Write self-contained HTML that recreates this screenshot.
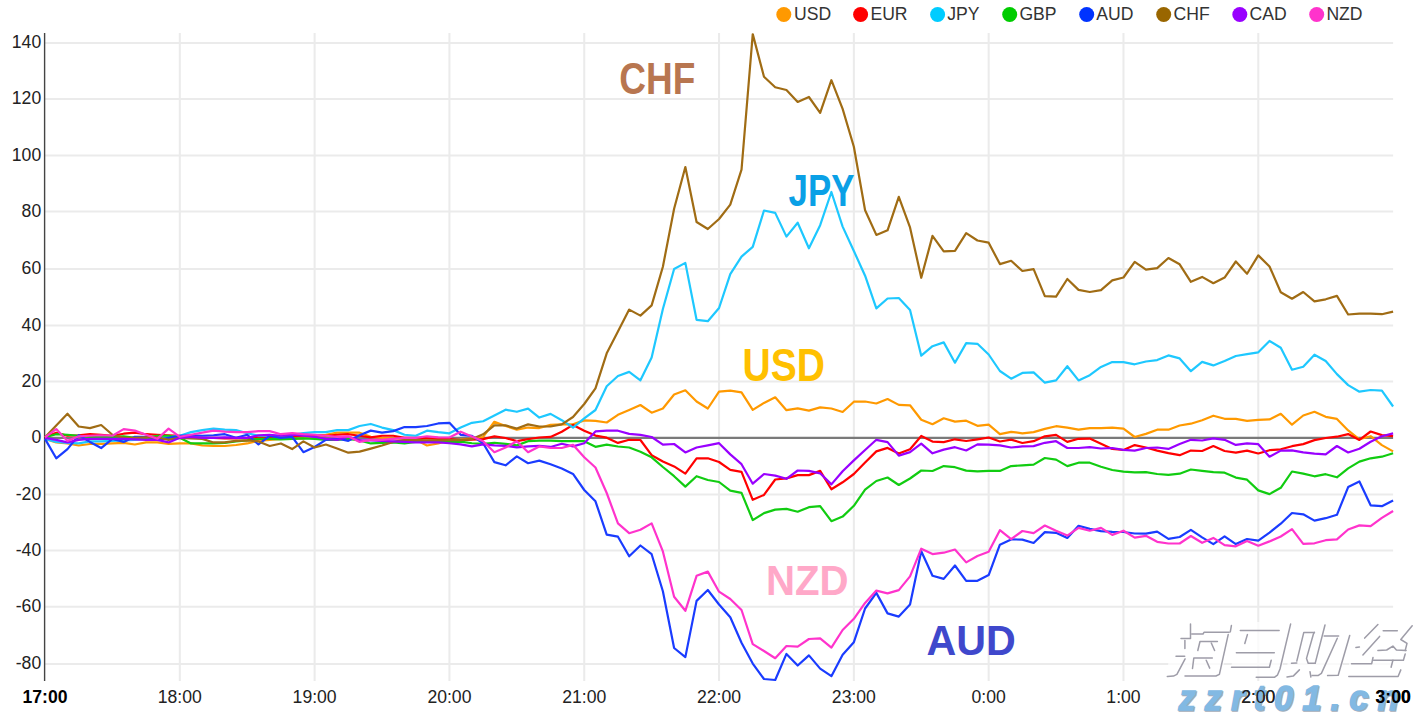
<!DOCTYPE html><html><head><meta charset="utf-8"><style>html,body{margin:0;padding:0;background:#fff;overflow:hidden}svg{display:block}</style></head><body><svg width="1414" height="715" viewBox="0 0 1414 715">
<path d="M45 43.00H1393.1 M45 99.00H1393.1 M45 155.40H1393.1 M45 211.60H1393.1 M45 268.90H1393.1 M45 325.40H1393.1 M45 381.50H1393.1 M45 494.40H1393.1 M45 550.60H1393.1 M45 606.70H1393.1 M45 664.10H1393.1 M179.81 33V681 M314.62 33V681 M449.43 33V681 M584.24 33V681 M719.05 33V681 M853.86 33V681 M988.67 33V681 M1123.48 33V681 M1258.29 33V681" stroke="#ebebeb" stroke-width="2" fill="none"/>
<text x="41.2" y="48.30" font-family="Liberation Sans, sans-serif" font-size="17.6" fill="#222" text-anchor="end">140</text>
<text x="41.2" y="104.30" font-family="Liberation Sans, sans-serif" font-size="17.6" fill="#222" text-anchor="end">120</text>
<text x="41.2" y="160.70" font-family="Liberation Sans, sans-serif" font-size="17.6" fill="#222" text-anchor="end">100</text>
<text x="41.2" y="216.90" font-family="Liberation Sans, sans-serif" font-size="17.6" fill="#222" text-anchor="end">80</text>
<text x="41.2" y="274.20" font-family="Liberation Sans, sans-serif" font-size="17.6" fill="#222" text-anchor="end">60</text>
<text x="41.2" y="330.70" font-family="Liberation Sans, sans-serif" font-size="17.6" fill="#222" text-anchor="end">40</text>
<text x="41.2" y="386.80" font-family="Liberation Sans, sans-serif" font-size="17.6" fill="#222" text-anchor="end">20</text>
<text x="41.2" y="443.20" font-family="Liberation Sans, sans-serif" font-size="17.6" fill="#222" text-anchor="end">0</text>
<text x="41.2" y="499.70" font-family="Liberation Sans, sans-serif" font-size="17.6" fill="#222" text-anchor="end">-20</text>
<text x="41.2" y="555.90" font-family="Liberation Sans, sans-serif" font-size="17.6" fill="#222" text-anchor="end">-40</text>
<text x="41.2" y="612.00" font-family="Liberation Sans, sans-serif" font-size="17.6" fill="#222" text-anchor="end">-60</text>
<text x="41.2" y="669.40" font-family="Liberation Sans, sans-serif" font-size="17.6" fill="#222" text-anchor="end">-80</text>
<text x="45.00" y="702.5" font-family="Liberation Sans, sans-serif" font-size="17.6" font-weight="bold" fill="#000" text-anchor="middle">17:00</text>
<text x="179.81" y="702.5" font-family="Liberation Sans, sans-serif" font-size="17.6" fill="#222" text-anchor="middle">18:00</text>
<text x="314.62" y="702.5" font-family="Liberation Sans, sans-serif" font-size="17.6" fill="#222" text-anchor="middle">19:00</text>
<text x="449.43" y="702.5" font-family="Liberation Sans, sans-serif" font-size="17.6" fill="#222" text-anchor="middle">20:00</text>
<text x="584.24" y="702.5" font-family="Liberation Sans, sans-serif" font-size="17.6" fill="#222" text-anchor="middle">21:00</text>
<text x="719.05" y="702.5" font-family="Liberation Sans, sans-serif" font-size="17.6" fill="#222" text-anchor="middle">22:00</text>
<text x="853.86" y="702.5" font-family="Liberation Sans, sans-serif" font-size="17.6" fill="#222" text-anchor="middle">23:00</text>
<text x="988.67" y="702.5" font-family="Liberation Sans, sans-serif" font-size="17.6" fill="#222" text-anchor="middle">0:00</text>
<text x="1123.48" y="702.5" font-family="Liberation Sans, sans-serif" font-size="17.6" fill="#222" text-anchor="middle">1:00</text>
<text x="1258.29" y="702.5" font-family="Liberation Sans, sans-serif" font-size="17.6" fill="#222" text-anchor="middle">2:00</text>
<text x="1393.10" y="702.5" font-family="Liberation Sans, sans-serif" font-size="17.6" font-weight="bold" fill="#000" text-anchor="middle">3:00</text>
<path d="M44.6 33V681" stroke="#444" stroke-width="1.4"/>
<path d="M45 437.9H1393.1" stroke="#7a7a7a" stroke-width="2.2"/>
<defs><clipPath id="pc"><rect x="44" y="33.2" width="1352" height="648"/></clipPath></defs><g clip-path="url(#pc)">
<polyline points="45.00,438.84 56.23,442.43 67.47,443.45 78.70,445.50 89.94,443.97 101.17,443.97 112.40,443.45 123.64,442.94 134.87,444.48 146.11,442.43 157.34,442.43 168.58,443.97 179.81,443.45 191.04,443.45 202.28,445.50 213.51,446.02 224.75,446.02 235.98,444.99 247.21,443.45 258.45,440.89 269.68,439.86 280.92,438.84 292.15,438.84 303.39,438.33 314.62,435.76 325.85,434.74 337.09,432.69 348.32,432.69 359.56,432.69 370.79,436.79 382.02,437.81 393.26,438.33 404.49,438.84 415.73,439.86 426.96,445.50 438.20,443.45 449.43,440.12 460.66,439.59 471.90,438.54 483.13,436.97 494.37,421.75 505.60,425.95 516.83,429.62 528.07,427.53 539.30,428.05 550.54,424.90 561.77,424.38 573.01,424.38 584.24,420.40 595.47,420.80 606.71,422.50 617.94,414.80 629.18,410.00 640.41,405.00 651.64,412.70 662.88,408.50 674.11,394.50 685.35,390.30 696.58,401.50 707.82,408.50 719.05,391.70 730.28,390.60 741.52,392.40 752.75,409.90 763.99,402.90 775.22,397.30 786.45,410.20 797.69,408.30 808.92,410.60 820.16,407.40 831.39,408.50 842.63,412.00 853.86,401.70 865.09,401.50 876.33,403.50 887.56,399.00 898.80,404.90 910.03,405.30 921.26,419.70 932.50,424.20 943.73,418.30 954.97,421.60 966.20,420.70 977.44,425.80 988.67,424.70 999.90,434.20 1011.14,431.80 1022.37,433.30 1033.61,432.10 1044.84,428.90 1056.07,426.20 1067.31,427.60 1078.54,429.70 1089.78,428.10 1101.01,428.10 1112.25,427.60 1123.48,428.70 1134.71,437.00 1145.95,433.90 1157.18,429.70 1168.42,429.70 1179.65,425.50 1190.88,423.70 1202.12,420.20 1213.35,415.70 1224.59,418.80 1235.82,418.80 1247.06,420.90 1258.29,419.80 1269.52,419.40 1280.76,413.80 1291.99,424.70 1303.23,415.50 1314.46,411.80 1325.69,416.80 1336.93,418.90 1348.16,430.40 1359.40,439.30 1370.63,436.20 1381.87,445.10 1393.10,451.40" fill="none" stroke="#ff9900" stroke-width="2.2" stroke-linejoin="round"/>
<polyline points="45.00,437.30 56.23,432.69 67.47,435.76 78.70,435.25 89.94,434.22 101.17,434.74 112.40,435.76 123.64,433.71 134.87,432.69 146.11,434.22 157.34,434.74 168.58,435.25 179.81,435.76 191.04,437.30 202.28,437.81 213.51,437.81 224.75,438.33 235.98,438.33 247.21,437.81 258.45,436.79 269.68,436.79 280.92,435.76 292.15,436.28 303.39,435.76 314.62,435.25 325.85,435.76 337.09,434.74 348.32,434.22 359.56,435.76 370.79,437.30 382.02,435.76 393.26,435.76 404.49,437.81 415.73,437.81 426.96,438.33 438.20,438.84 449.43,439.07 460.66,440.12 471.90,439.59 483.13,439.07 494.37,436.44 505.60,438.02 516.83,441.17 528.07,439.07 539.30,437.49 550.54,436.97 561.77,431.72 573.01,424.90 584.24,430.70 595.47,435.60 606.71,437.70 617.94,442.90 629.18,439.80 640.41,440.00 651.64,455.20 662.88,461.50 674.11,466.40 685.35,473.60 696.58,458.30 707.82,458.30 719.05,462.00 730.28,469.80 741.52,471.90 752.75,499.80 763.99,494.90 775.22,479.50 786.45,478.40 797.69,475.10 808.92,475.10 820.16,470.90 831.39,489.30 842.63,482.30 853.86,474.00 865.09,462.60 876.33,451.40 887.56,447.90 898.80,453.50 910.03,449.30 921.26,436.00 932.50,441.60 943.73,442.10 954.97,439.30 966.20,441.00 977.44,439.30 988.67,437.50 999.90,441.50 1011.14,439.60 1022.37,443.00 1033.61,441.20 1044.84,436.30 1056.07,434.90 1067.31,441.90 1078.54,438.80 1089.78,438.60 1101.01,443.80 1112.25,448.90 1123.48,450.00 1134.71,445.10 1145.95,447.50 1157.18,450.60 1168.42,453.10 1179.65,455.20 1190.88,450.60 1202.12,451.00 1213.35,446.10 1224.59,451.00 1235.82,452.70 1247.06,450.60 1258.29,453.50 1269.52,450.20 1280.76,449.30 1291.99,446.20 1303.23,444.10 1314.46,440.10 1325.69,438.00 1336.93,436.70 1348.16,434.10 1359.40,439.90 1370.63,431.50 1381.87,435.10 1393.10,436.20" fill="none" stroke="#ff0000" stroke-width="2.2" stroke-linejoin="round"/>
<polyline points="45.00,438.84 56.23,441.92 67.47,442.94 78.70,443.45 89.94,441.40 101.17,441.40 112.40,440.89 123.64,440.38 134.87,439.86 146.11,438.84 157.34,437.81 168.58,436.79 179.81,435.76 191.04,432.17 202.28,430.12 213.51,428.58 224.75,429.61 235.98,430.12 247.21,433.20 258.45,435.76 269.68,435.76 280.92,435.76 292.15,434.74 303.39,433.20 314.62,432.17 325.85,432.17 337.09,430.12 348.32,430.12 359.56,426.02 370.79,423.97 382.02,427.56 393.26,430.12 404.49,434.74 415.73,435.76 426.96,430.64 438.20,432.17 449.43,433.30 460.66,427.53 471.90,422.80 483.13,421.23 494.37,415.46 505.60,409.69 516.83,411.79 528.07,408.64 539.30,417.56 550.54,413.89 561.77,420.18 573.01,427.53 584.24,418.30 595.47,410.00 606.71,386.20 617.94,376.00 629.18,371.90 640.41,380.30 651.64,357.50 662.88,309.00 674.11,269.00 685.35,262.90 696.58,319.80 707.82,321.20 719.05,308.00 730.28,274.10 741.52,256.60 752.75,246.90 763.99,210.50 775.22,212.90 786.45,236.60 797.69,222.70 808.92,248.30 820.16,225.20 831.39,192.00 842.63,226.60 853.86,251.00 865.09,275.70 876.33,308.40 887.56,298.50 898.80,298.00 910.03,310.00 921.26,355.70 932.50,346.20 943.73,342.40 954.97,362.70 966.20,343.10 977.44,343.80 988.67,354.50 999.90,371.00 1011.14,378.70 1022.37,372.90 1033.61,372.40 1044.84,382.70 1056.07,380.40 1067.31,366.20 1078.54,380.40 1089.78,375.20 1101.01,366.90 1112.25,362.00 1123.48,362.20 1134.71,364.30 1145.95,361.50 1157.18,360.10 1168.42,355.40 1179.65,358.40 1190.88,371.20 1202.12,361.90 1213.35,365.40 1224.59,360.90 1235.82,356.00 1247.06,354.20 1258.29,352.30 1269.52,341.00 1280.76,347.80 1291.99,369.70 1303.23,366.70 1314.46,354.70 1325.69,361.00 1336.93,374.10 1348.16,385.10 1359.40,391.70 1370.63,390.00 1381.87,390.60 1393.10,406.50" fill="none" stroke="#1ec8ff" stroke-width="2.2" stroke-linejoin="round"/>
<polyline points="45.00,437.30 56.23,434.22 67.47,434.74 78.70,435.76 89.94,436.79 101.17,436.28 112.40,436.79 123.64,436.28 134.87,437.81 146.11,437.81 157.34,435.76 168.58,435.76 179.81,437.81 191.04,443.45 202.28,443.45 213.51,443.45 224.75,442.94 235.98,441.40 247.21,440.38 258.45,438.84 269.68,438.84 280.92,439.35 292.15,438.84 303.39,438.33 314.62,438.84 325.85,439.86 337.09,439.86 348.32,438.84 359.56,440.38 370.79,443.45 382.02,442.94 393.26,442.43 404.49,443.45 415.73,441.92 426.96,441.40 438.20,441.40 449.43,442.21 460.66,441.69 471.90,443.26 483.13,443.79 494.37,442.74 505.60,443.79 516.83,445.36 528.07,441.17 539.30,440.64 550.54,440.64 561.77,441.17 573.01,441.17 584.24,441.20 595.47,446.80 606.71,444.70 617.94,446.50 629.18,447.50 640.41,451.70 651.64,457.30 662.88,467.00 674.11,476.20 685.35,486.60 696.58,476.20 707.82,480.00 719.05,482.00 730.28,490.70 741.52,492.80 752.75,520.10 763.99,513.10 775.22,509.60 786.45,508.90 797.69,511.70 808.92,507.20 820.16,506.10 831.39,521.20 842.63,516.60 853.86,505.80 865.09,489.60 876.33,481.00 887.56,477.50 898.80,485.00 910.03,478.50 921.26,470.50 932.50,471.00 943.73,466.10 954.97,467.20 966.20,470.60 977.44,471.40 988.67,470.80 999.90,470.90 1011.14,466.10 1022.37,465.30 1033.61,464.60 1044.84,458.00 1056.07,459.60 1067.31,466.10 1078.54,462.70 1089.78,462.70 1101.01,466.70 1112.25,470.00 1123.48,471.70 1134.71,472.40 1145.95,472.20 1157.18,474.00 1168.42,474.80 1179.65,473.70 1190.88,469.50 1202.12,470.90 1213.35,472.20 1224.59,472.70 1235.82,477.60 1247.06,479.70 1258.29,490.40 1269.52,494.10 1280.76,487.80 1291.99,471.50 1303.23,473.60 1314.46,476.30 1325.69,474.20 1336.93,477.30 1348.16,468.40 1359.40,461.60 1370.63,458.30 1381.87,456.70 1393.10,453.30" fill="none" stroke="#11cc11" stroke-width="2.2" stroke-linejoin="round"/>
<polyline points="45.00,438.84 56.23,458.32 67.47,449.09 78.70,435.25 89.94,441.92 101.17,448.07 112.40,438.84 123.64,441.92 134.87,436.79 146.11,436.79 157.34,439.86 168.58,437.81 179.81,435.76 191.04,435.25 202.28,435.76 213.51,435.25 224.75,434.22 235.98,437.81 247.21,434.74 258.45,444.48 269.68,435.76 280.92,437.81 292.15,436.79 303.39,452.17 314.62,447.04 325.85,439.86 337.09,438.33 348.32,440.89 359.56,435.25 370.79,430.64 382.02,432.69 393.26,431.15 404.49,427.05 415.73,427.05 426.96,426.02 438.20,423.46 449.43,422.80 460.66,434.87 471.90,435.92 483.13,443.26 494.37,462.15 505.60,465.30 516.83,456.38 528.07,463.20 539.30,460.58 550.54,464.25 561.77,468.44 573.01,473.90 584.24,490.00 595.47,501.30 606.71,534.60 617.94,536.70 629.18,556.30 640.41,545.50 651.64,554.20 662.88,591.20 674.11,648.00 685.35,657.10 696.58,600.90 707.82,590.00 719.05,604.50 730.28,617.30 741.52,642.80 752.75,663.60 763.99,679.00 775.22,680.00 786.45,653.90 797.69,665.50 808.92,655.40 820.16,668.60 831.39,676.20 842.63,654.80 853.86,642.20 865.09,608.50 876.33,592.90 887.56,613.40 898.80,616.60 910.03,604.60 921.26,551.20 932.50,575.70 943.73,578.90 954.97,565.50 966.20,580.80 977.44,580.80 988.67,575.10 999.90,544.70 1011.14,539.40 1022.37,539.60 1033.61,543.00 1044.84,532.10 1056.07,532.80 1067.31,538.00 1078.54,525.80 1089.78,528.90 1101.01,531.20 1112.25,531.80 1123.48,532.00 1134.71,533.50 1145.95,533.60 1157.18,531.60 1168.42,538.90 1179.65,537.00 1190.88,529.90 1202.12,537.40 1213.35,544.10 1224.59,536.40 1235.82,544.10 1247.06,539.00 1258.29,540.70 1269.52,532.60 1280.76,523.70 1291.99,513.00 1303.23,514.30 1314.46,520.60 1325.69,518.20 1336.93,514.80 1348.16,487.10 1359.40,481.50 1370.63,505.30 1381.87,506.20 1393.10,500.40" fill="none" stroke="#1a3cff" stroke-width="2.2" stroke-linejoin="round"/>
<polyline points="45.00,437.30 56.23,425.51 67.47,413.72 78.70,426.53 89.94,428.07 101.17,425.00 112.40,434.74 123.64,437.81 134.87,437.81 146.11,437.30 157.34,437.30 168.58,439.86 179.81,437.81 191.04,438.33 202.28,438.84 213.51,442.43 224.75,442.43 235.98,440.89 247.21,440.38 258.45,441.40 269.68,446.02 280.92,443.45 292.15,449.09 303.39,441.40 314.62,447.56 325.85,444.48 337.09,448.58 348.32,452.68 359.56,451.66 370.79,448.58 382.02,445.50 393.26,441.92 404.49,439.86 415.73,439.86 426.96,440.38 438.20,440.38 449.43,440.12 460.66,440.12 471.90,439.07 483.13,434.35 494.37,425.43 505.60,425.43 516.83,428.57 528.07,424.38 539.30,426.48 550.54,426.48 561.77,424.38 573.01,417.03 584.24,404.00 595.47,388.30 606.71,353.30 617.94,331.50 629.18,309.60 640.41,315.60 651.64,305.40 662.88,266.70 674.11,208.70 685.35,167.00 696.58,222.00 707.82,229.00 719.05,219.00 730.28,204.60 741.52,169.70 752.75,34.10 763.99,76.70 775.22,87.20 786.45,90.00 797.69,101.90 808.92,97.00 820.16,112.80 831.39,80.20 842.63,108.90 853.86,146.70 865.09,210.20 876.33,234.90 887.56,230.30 898.80,196.90 910.03,227.40 921.26,277.80 932.50,235.90 943.73,251.30 954.97,250.80 966.20,233.10 977.44,240.50 988.67,242.70 999.90,264.10 1011.14,260.80 1022.37,271.00 1033.61,269.20 1044.84,296.20 1056.07,296.60 1067.31,279.00 1078.54,289.90 1089.78,292.00 1101.01,290.20 1112.25,280.40 1123.48,277.50 1134.71,261.80 1145.95,269.60 1157.18,268.10 1168.42,258.00 1179.65,264.30 1190.88,281.80 1202.12,276.90 1213.35,283.20 1224.59,277.60 1235.82,261.50 1247.06,273.80 1258.29,255.40 1269.52,266.50 1280.76,292.20 1291.99,298.70 1303.23,292.00 1314.46,301.40 1325.69,299.30 1336.93,295.90 1348.16,314.50 1359.40,313.70 1370.63,313.70 1381.87,314.20 1393.10,311.60" fill="none" stroke="#a06c14" stroke-width="2.2" stroke-linejoin="round"/>
<polyline points="45.00,437.81 56.23,439.86 67.47,442.43 78.70,439.86 89.94,438.84 101.17,438.84 112.40,438.84 123.64,438.84 134.87,439.35 146.11,439.86 157.34,439.86 168.58,442.43 179.81,437.81 191.04,436.79 202.28,437.81 213.51,437.81 224.75,437.30 235.98,437.81 247.21,437.81 258.45,435.25 269.68,434.74 280.92,435.76 292.15,434.74 303.39,435.76 314.62,436.79 325.85,438.84 337.09,439.86 348.32,436.79 359.56,440.38 370.79,440.38 382.02,440.89 393.26,441.40 404.49,441.92 415.73,442.43 426.96,442.43 438.20,442.43 449.43,443.26 460.66,444.31 471.90,446.41 483.13,444.31 494.37,445.36 505.60,445.89 516.83,447.46 528.07,446.41 539.30,445.89 550.54,446.94 561.77,443.79 573.01,446.41 584.24,443.30 595.47,431.40 606.71,430.70 617.94,430.70 629.18,433.90 640.41,434.90 651.64,437.00 662.88,444.70 674.11,444.00 685.35,452.40 696.58,447.50 707.82,445.40 719.05,443.20 730.28,454.40 741.52,464.20 752.75,483.70 763.99,474.00 775.22,475.60 786.45,478.80 797.69,470.50 808.92,470.90 820.16,473.30 831.39,484.40 842.63,471.20 853.86,460.40 865.09,450.00 876.33,439.80 887.56,442.10 898.80,455.60 910.03,452.10 921.26,443.70 932.50,453.30 943.73,449.60 954.97,447.20 966.20,450.50 977.44,444.40 988.67,444.60 999.90,445.40 1011.14,447.50 1022.37,446.40 1033.61,446.10 1044.84,442.80 1056.07,441.20 1067.31,448.00 1078.54,448.00 1089.78,447.20 1101.01,448.50 1112.25,448.00 1123.48,449.80 1134.71,450.60 1145.95,448.00 1157.18,447.50 1168.42,448.90 1179.65,444.00 1190.88,439.80 1202.12,440.50 1213.35,438.40 1224.59,439.80 1235.82,444.90 1247.06,443.30 1258.29,444.20 1269.52,456.70 1280.76,450.60 1291.99,450.40 1303.23,452.30 1314.46,453.70 1325.69,454.30 1336.93,446.00 1348.16,452.50 1359.40,448.80 1370.63,441.80 1381.87,436.20 1393.10,433.40" fill="none" stroke="#9900ff" stroke-width="2.2" stroke-linejoin="round"/>
<polyline points="45.00,437.30 56.23,429.10 67.47,440.89 78.70,436.28 89.94,435.76 101.17,435.25 112.40,435.76 123.64,429.10 134.87,430.64 146.11,434.74 157.34,438.84 168.58,428.58 179.81,436.79 191.04,434.74 202.28,432.69 213.51,430.64 224.75,431.66 235.98,432.17 247.21,432.17 258.45,431.15 269.68,431.15 280.92,434.22 292.15,433.20 303.39,434.22 314.62,434.74 325.85,435.76 337.09,436.79 348.32,436.28 359.56,441.92 370.79,439.86 382.02,439.86 393.26,438.84 404.49,437.81 415.73,437.81 426.96,436.28 438.20,437.30 449.43,437.49 460.66,431.72 471.90,436.44 483.13,441.17 494.37,452.18 505.60,447.46 516.83,441.17 528.07,452.18 539.30,446.41 550.54,447.98 561.77,447.98 573.01,444.84 584.24,457.30 595.47,467.50 606.71,493.00 617.94,523.40 629.18,533.20 640.41,529.70 651.64,523.40 662.88,551.40 674.11,596.80 685.35,610.80 696.58,575.80 707.82,571.60 719.05,591.70 730.28,599.00 741.52,610.00 752.75,644.10 763.99,651.00 775.22,658.20 786.45,646.00 797.69,646.60 808.92,639.00 820.16,638.40 831.39,647.60 842.63,630.00 853.86,618.80 865.09,602.90 876.33,590.60 887.56,593.40 898.80,590.10 910.03,576.40 921.26,548.70 932.50,554.10 943.73,552.70 954.97,549.50 966.20,562.40 977.44,556.00 988.67,551.80 999.90,530.20 1011.14,539.10 1022.37,531.00 1033.61,533.10 1044.84,525.50 1056.07,530.70 1067.31,535.60 1078.54,527.90 1089.78,530.70 1101.01,527.90 1112.25,534.90 1123.48,530.70 1134.71,537.60 1145.95,535.80 1157.18,541.80 1168.42,543.50 1179.65,543.50 1190.88,536.00 1202.12,542.80 1213.35,537.90 1224.59,545.20 1235.82,546.30 1247.06,541.00 1258.29,545.70 1269.52,541.40 1280.76,536.50 1291.99,529.20 1303.23,543.90 1314.46,543.30 1325.69,540.20 1336.93,539.30 1348.16,529.50 1359.40,525.40 1370.63,526.10 1381.87,517.90 1393.10,511.00" fill="none" stroke="#ff33cc" stroke-width="2.2" stroke-linejoin="round"/>
</g>
<circle cx="783.8" cy="14.5" r="7.5" fill="#ff9900"/>
<text x="794" y="19.6" font-family="Liberation Sans, sans-serif" font-size="17.6" fill="#333">USD</text>
<circle cx="860.6" cy="14.5" r="7.5" fill="#ff0000"/>
<text x="870.4" y="19.6" font-family="Liberation Sans, sans-serif" font-size="17.6" fill="#333">EUR</text>
<circle cx="937.6" cy="14.5" r="7.5" fill="#00ccff"/>
<text x="947.2" y="19.6" font-family="Liberation Sans, sans-serif" font-size="17.6" fill="#333">JPY</text>
<circle cx="1009.7" cy="14.5" r="7.5" fill="#00cc00"/>
<text x="1019.4" y="19.6" font-family="Liberation Sans, sans-serif" font-size="17.6" fill="#333">GBP</text>
<circle cx="1086.7" cy="14.5" r="7.5" fill="#0033ff"/>
<text x="1096.3" y="19.6" font-family="Liberation Sans, sans-serif" font-size="17.6" fill="#333">AUD</text>
<circle cx="1163.7" cy="14.5" r="7.5" fill="#996600"/>
<text x="1173.6" y="19.6" font-family="Liberation Sans, sans-serif" font-size="17.6" fill="#333">CHF</text>
<circle cx="1239.8" cy="14.5" r="7.5" fill="#9900ff"/>
<text x="1249.5" y="19.6" font-family="Liberation Sans, sans-serif" font-size="17.6" fill="#333">CAD</text>
<circle cx="1316.7" cy="14.5" r="7.5" fill="#ff33cc"/>
<text x="1326.4" y="19.6" font-family="Liberation Sans, sans-serif" font-size="17.6" fill="#333">NZD</text>
<text x="619.21" y="93.74" font-family="Liberation Sans, sans-serif" font-size="44.10" font-weight="bold" fill="#b87650" textLength="76.08" lengthAdjust="spacingAndGlyphs">CHF</text>
<text x="788.60" y="205.68" font-family="Liberation Sans, sans-serif" font-size="43.83" font-weight="bold" fill="#0aa0e6" textLength="65.77" lengthAdjust="spacingAndGlyphs">JPY</text>
<text x="742.48" y="380.57" font-family="Liberation Sans, sans-serif" font-size="45.92" font-weight="bold" fill="#ffc000" textLength="82.49" lengthAdjust="spacingAndGlyphs">USD</text>
<text x="765.93" y="594.83" font-family="Liberation Sans, sans-serif" font-size="41.77" font-weight="bold" fill="#ffa8c8" textLength="82.67" lengthAdjust="spacingAndGlyphs">NZD</text>
<text x="926.56" y="655.15" font-family="Liberation Sans, sans-serif" font-size="42.91" font-weight="bold" fill="#3f48cc" textLength="89.32" lengthAdjust="spacingAndGlyphs">AUD</text>
<g opacity="0.75" fill="#fff">
<polygon points="1178.0,622.0 1233.0,622.0 1221.0,677.5 1165.0,677.5"/>
<polygon points="1240.0,622.0 1292.0,622.0 1280.0,677.5 1229.0,677.5"/>
<polygon points="1292.0,622.0 1352.0,622.0 1340.0,677.5 1286.0,677.5"/>
<polygon points="1356.0,622.0 1414.0,622.0 1414.0,677.5 1347.0,677.5"/>
</g>
<g fill="none" stroke="#8e8c9a" stroke-width="1.5" stroke-linejoin="round" stroke-linecap="round" opacity="0.85">
<polyline points="1190.5,624.0 1190.5,638.4 1181.0,638.4"/>
<polyline points="1191.7,634.0 1203.0,634.0 1204.0,632.3 1229.2,632.3"/>
<polyline points="1231.4,625.6 1230.3,631.8"/>
<polyline points="1184.9,640.5 1184.9,648.4"/>
<polyline points="1176.0,656.2 1184.7,656.2"/>
<polyline points="1185.1,658.8 1176.9,674.4 1173.4,676.1 1167.3,676.5"/>
<polyline points="1197.8,650.5 1200.0,641.5 1217.4,641.5"/>
<polyline points="1211.3,643.0 1214.6,650.5"/>
<polyline points="1192.5,668.5 1193.8,658.0 1212.3,658.0"/>
<polyline points="1206.2,660.2 1209.7,668.1"/>
<polyline points="1228.2,634.6 1219.4,674.3 1215.9,676.0 1185.0,676.0"/>
<polyline points="1240.3,630.4 1279.1,630.4"/>
<polyline points="1247.4,634.6 1244.8,643.5"/>
<polyline points="1236.4,652.7 1274.3,652.7"/>
<polyline points="1271.2,660.2 1269.4,667.3 1231.5,667.3"/>
<polyline points="1290.6,624.1 1280.0,669.0 1277.4,675.2 1274.7,677.2 1256.2,677.2"/>
<polyline points="1314.4,632.4 1303.8,632.4 1296.8,661.1"/>
<polyline points="1291.5,663.3 1296.8,663.0"/>
<polyline points="1325.0,625.0 1315.3,662.9"/>
<polyline points="1299.4,669.9 1293.2,676.1 1287.0,677.0"/>
<polyline points="1310.0,671.7 1310.9,677.0"/>
<polyline points="1314.4,632.4 1313.5,633.8 1306.5,658.4 1308.2,663.3 1315.3,663.3"/>
<polyline points="1324.1,636.0 1338.6,636.0"/>
<polyline points="1337.3,638.2 1321.4,673.4 1318.0,675.6 1312.0,675.6"/>
<polyline points="1349.7,635.5 1338.2,675.2 1327.6,675.6"/>
<polyline points="1377.9,624.5 1364.7,638.1"/>
<polyline points="1379.6,636.4 1362.9,654.9"/>
<polyline points="1355.9,647.4 1359.4,647.0"/>
<polyline points="1351.5,663.7 1371.7,663.7 1373.0,657.5"/>
<polyline points="1383.2,630.7 1397.3,630.7"/>
<polyline points="1412.2,625.8 1400.8,639.5 1407.0,643.4 1405.2,650.5"/>
<polyline points="1377.9,650.5 1386.7,650.0 1392.9,646.1 1396.4,650.0 1406.1,650.5"/>
<polyline points="1373.5,660.2 1403.4,660.2 1405.2,654.0"/>
<polyline points="1392.9,660.2 1391.1,667.2"/>
<polyline points="1348.8,676.5 1398.1,676.5 1400.8,669.9"/>
</g>
<g fill="none" stroke="#c8c8d0" stroke-width="1.2" opacity="0.8">
</g>
<text x="1179.4" y="711" font-family="Liberation Sans, sans-serif" font-size="34.2" font-weight="bold" font-style="italic" fill="#7a8a9c" stroke="#7a8a9c" stroke-width="1.4" letter-spacing="9.2" opacity="0.7">zzrt01.cn</text>
<text x="1178.4" y="710" font-family="Liberation Sans, sans-serif" font-size="34.2" font-weight="bold" font-style="italic" fill="#82b9e3" stroke="#82b9e3" stroke-width="1.4" letter-spacing="9.2">zzrt01.cn</text>
<text x="1258.29" y="702.5" font-family="Liberation Sans, sans-serif" font-size="17.6" fill="#222" text-anchor="middle">2:00</text>
<text x="1393.10" y="702.5" font-family="Liberation Sans, sans-serif" font-size="17.6" font-weight="bold" fill="#000" text-anchor="middle">3:00</text>
</svg></body></html>
